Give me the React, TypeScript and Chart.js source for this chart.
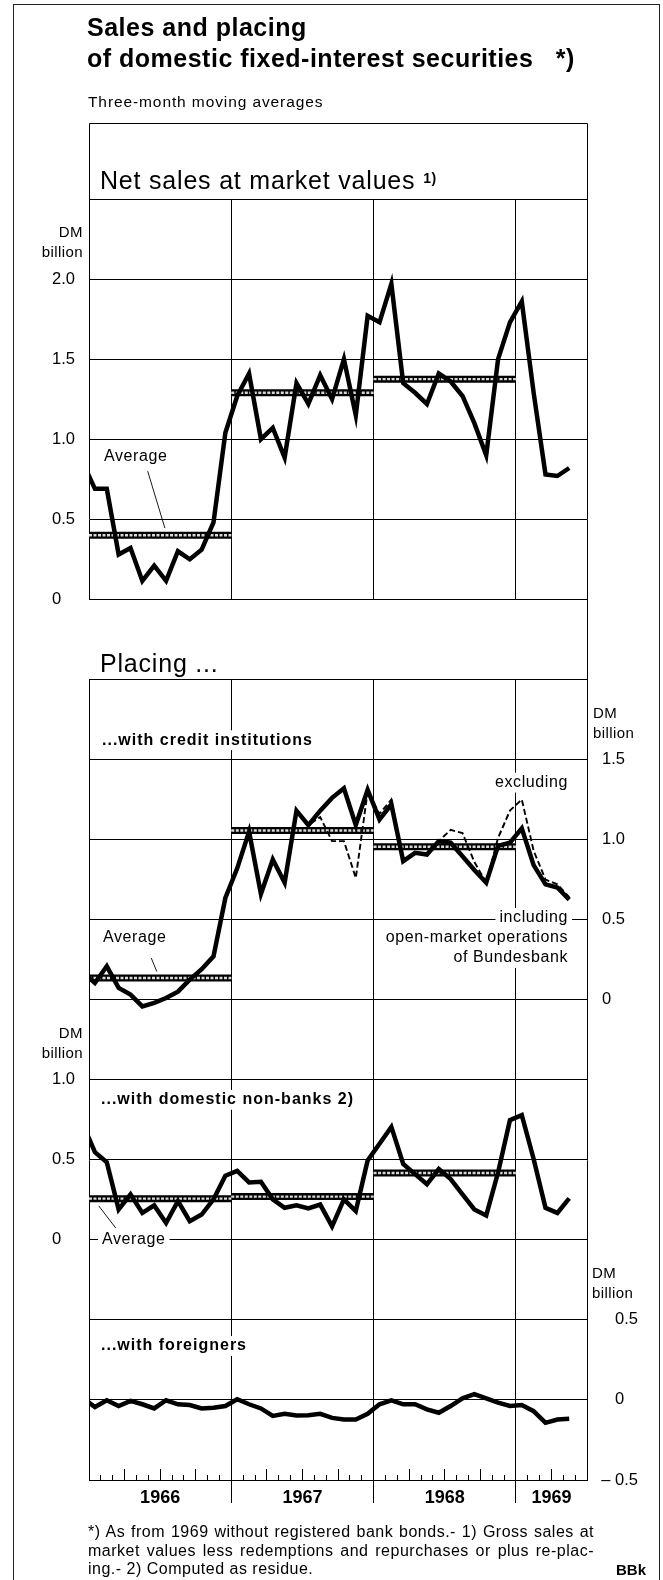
import React, { useEffect, useRef } from "react";
import { Chart, registerables } from "chart.js";

Chart.register(...registerables);

const FONT = '"Liberation Sans", Arial, Helvetica, sans-serif';

// ---------- categories: monthly points, Dec 1965 ... May 1969 ----------
const months: string[] = [];
for (let i = -1; i < 41; i++) {
  const yr = 1966 + Math.floor(i / 12);
  const mo = (((i % 12) + 12) % 12) + 1;
  months.push(`${yr}-${String(mo).padStart(2, "0")}`);
}

const yearLabels = ["1966", "1967", "1968", "1969"];
const yearStarts = [0, 12, 24, 36];
const yearEnds = [12, 24, 36, 42];

// ---------- series (DM billion, three-month moving averages) ----------
const netSales = [0.85, 0.69, 0.69, 0.28, 0.32, 0.115, 0.21, 0.115, 0.3, 0.25, 0.31, 0.48, 1.04, 1.27, 1.41, 1.0, 1.07, 0.885, 1.35, 1.22, 1.4, 1.25, 1.5, 1.15, 1.77, 1.73, 1.97, 1.35, 1.29, 1.22, 1.41, 1.36, 1.27, 1.1, 0.9, 1.5, 1.73, 1.86, 1.29, 0.78, 0.77, 0.82];
const creditIncluding = [0.17, 0.104, 0.208, 0.073, 0.031, -0.042, -0.02, 0.01, 0.05, 0.125, 0.19, 0.27, 0.635, 0.82, 1.05, 0.66, 0.875, 0.73, 1.18, 1.09, 1.18, 1.26, 1.32, 1.09, 1.31, 1.125, 1.22, 0.865, 0.917, 0.906, 0.99, 0.98, 0.896, 0.81, 0.73, 0.96, 0.98, 1.07, 0.84, 0.72, 0.7, 0.625];
const creditExcluding = [0.17, 0.104, 0.208, 0.073, 0.031, -0.042, -0.02, 0.01, 0.05, 0.125, 0.19, 0.27, 0.635, 0.82, 1.05, 0.66, 0.875, 0.73, 1.18, 1.09, 1.14, 0.99, 0.99, 0.76, 1.3, 1.16, 1.25, 0.865, 0.917, 0.906, 0.99, 1.06, 1.04, 0.86, 0.73, 1.01, 1.18, 1.25, 0.93, 0.75, 0.72, 0.64];
const nonBanks = [0.72, 0.547, 0.484, 0.19, 0.284, 0.168, 0.215, 0.105, 0.242, 0.116, 0.158, 0.253, 0.4, 0.43, 0.358, 0.362, 0.253, 0.2, 0.215, 0.196, 0.22, 0.084, 0.253, 0.18, 0.495, 0.6, 0.705, 0.474, 0.41, 0.347, 0.442, 0.379, 0.284, 0.19, 0.152, 0.42, 0.747, 0.779, 0.505, 0.2, 0.168, 0.259];
const foreigners = [0.01, -0.044, -0.002, -0.038, -0.006, -0.027, -0.053, -0.002, -0.027, -0.032, -0.053, -0.049, -0.038, 0.004, -0.027, -0.053, -0.1, -0.087, -0.097, -0.095, -0.087, -0.112, -0.122, -0.122, -0.087, -0.027, -0.002, -0.027, -0.027, -0.059, -0.08, -0.038, 0.01, 0.036, 0.01, -0.017, -0.038, -0.032, -0.07, -0.143, -0.122, -0.118];

// yearly averages 1966, 1967, 1968
const netSalesAvg = [0.4, 1.29, 1.375];
const creditAvg = [0.135, 1.056, 0.955];
const nonBanksAvg = [0.257, 0.27, 0.417];

// tick labels
const topTicks = [0, 0.5, 1, 1.5, 2];
const creditTicks = [0, 0.5, 1, 1.5];
const nonBankTicks = [0, 0.5, 1];
const foreignTicks = [-0.5, 0, 0.5];

// ---------- helpers ----------
const fmt = (v: number) => (v === 0 ? "0" : v < 0 ? "– " + Math.abs(v).toFixed(1) : v.toFixed(1));
const toPoints = (vals: number[]) => vals.map((v, k) => ({ x: k - 0.5, y: v, m: months[k] }));
const bandPoints = (avgs: number[]) => {
  const pts: any[] = [];
  avgs.forEach((a, j) => {
    pts.push({ x: yearStarts[j], y: a }, { x: yearEnds[j], y: a }, { x: yearEnds[j], y: null });
  });
  return pts;
};
const ap = (p: number) => Math.round(p - 0.5) + 0.5;

function lineDs(data: any[], axis: string, width: number, order: number, extra: any = {}) {
  return {
    data,
    yAxisID: axis,
    xAxisID: "x",
    borderColor: "#000",
    borderWidth: width,
    pointRadius: 0,
    tension: 0,
    fill: false,
    borderJoinStyle: "miter",
    borderCapStyle: "butt",
    clip: 0,
    order,
    ...extra,
  };
}

function txt(ctx: any, s: string, x: number, y: number, o: any = {}) {
  const size = o.size ?? 16;
  ctx.font = `${o.weight ?? "normal"} ${size}px ${FONT}`;
  ctx.letterSpacing = `${o.spacing ?? 0.6}px`;
  ctx.textAlign = o.align ?? "left";
  ctx.textBaseline = o.baseline ?? "middle";
  if (o.bg) {
    const w = ctx.measureText(s).width;
    const x0 = ctx.textAlign === "right" ? x - w : x;
    ctx.fillStyle = "#fff";
    ctx.fillRect(x0 - 4, y - size * 0.62, w + 8, size * 1.24);
  }
  ctx.fillStyle = "#000";
  ctx.fillText(s, x, y);
}

const decor = {
  id: "decor",
  beforeDatasetsDraw(chart: any) {
    const { ctx, chartArea: ca, scales } = chart;
    const { x, yTop, yCI, yNB, yFor } = scales;
    ctx.save();
    ctx.lineWidth = 1;

    // outer frame of the figure
    ctx.strokeStyle = "#222";
    ctx.strokeRect(13.5, 4.5, 646, 1590);
    ctx.strokeStyle = "#000";

    // "Placing ..." header strip: blank between the two panels
    const p0 = ap(yTop.getPixelForValue(0)) + 0.5;
    const p1 = ap(yCI.getPixelForValue(2)) - 0.5;
    ctx.fillStyle = "#fff";
    ctx.fillRect(ca.left, p0, ca.right - ca.left - 1, p1 - p0);

    // "Net sales" header box above plot
    const hTop = ap(ca.top - 76);
    ctx.beginPath();
    ctx.moveTo(ap(ca.left), ca.top);
    ctx.lineTo(ap(ca.left), hTop);
    ctx.lineTo(ap(ca.right), hTop);
    ctx.lineTo(ap(ca.right), ca.top);
    ctx.stroke();

    // header titles
    txt(ctx, "Net sales at market values", ca.left + 11, ca.top - 10, { size: 25, spacing: 0.8, baseline: "alphabetic" });
    ctx.font = `normal 25px ${FONT}`;
    ctx.letterSpacing = "0.8px";
    const wNet = ctx.measureText("Net sales at market values").width;
    txt(ctx, "1)", ca.left + 11 + wNet + 8, ca.top - 16, { size: 14, weight: "bold", spacing: 0.3, baseline: "alphabetic" });
    txt(ctx, "Placing ...", ca.left + 11, p0 + 72, { size: 25, spacing: 0.8, baseline: "alphabetic" });

    // month ticks along the time axis
    for (let m = 1; m < 42; m++) {
      if (yearStarts.includes(m)) continue;
      const px = ap(x.getPixelForValue(m));
      const h = m % 3 === 0 ? 11 : 5;
      ctx.beginPath();
      ctx.moveTo(px, ca.bottom);
      ctx.lineTo(px, ca.bottom - h);
      ctx.stroke();
    }
    // year separators extend below axis
    yearStarts.slice(1).forEach((s) => {
      const px = ap(x.getPixelForValue(s));
      ctx.beginPath();
      ctx.moveTo(px, ca.bottom);
      ctx.lineTo(px, ca.bottom + 23);
      ctx.stroke();
    });

    // unit labels
    const unit = (sc: any, v: number, xx: number, align: string) => {
      const py = sc.getPixelForValue(v);
      txt(ctx, "DM", xx, py - 46, { size: 15, align, spacing: 0.4 });
      txt(ctx, "billion", xx, py - 26, { size: 15, align, spacing: 0.4 });
    };
    unit(yTop, 2, ca.left - 6, "right");
    unit(yNB, 1, ca.left - 6, "right");
    unit(yCI, 1.5, ca.right + 6, "left");
    unit(yFor, 0.5, ca.right + 5, "left");

    // leader lines for "Average"
    const lead = (sc: any, m0: number, v0: number, m1: number, v1: number) => {
      ctx.beginPath();
      ctx.lineWidth = 0.9;
      ctx.moveTo(x.getPixelForValue(m0), sc.getPixelForValue(v0));
      ctx.lineTo(x.getPixelForValue(m1), sc.getPixelForValue(v1));
      ctx.stroke();
      ctx.lineWidth = 1;
    };
    lead(yTop, 4.95, 0.8, 6.4, 0.445);
    lead(yCI, 5.25, 0.26, 5.72, 0.175);
    lead(yNB, 0.82, 0.212, 2.25, 0.074);

    // in-plot labels
    const L = ca.left;
    const R = ca.right - 19;
    txt(ctx, "Average", L + 15, yTop.getPixelForValue(0.89), { bg: true });
    txt(ctx, "...with credit institutions", L + 13, yCI.getPixelForValue(1.62), { weight: "bold", spacing: 1, bg: true });
    txt(ctx, "Average", L + 14, yCI.getPixelForValue(0.39), { bg: true });
    txt(ctx, "excluding", R, yCI.getPixelForValue(1.355), { align: "right", bg: true });
    txt(ctx, "including", R, yCI.getPixelForValue(0.51), { align: "right", bg: true });
    txt(ctx, "open-market operations", R, yCI.getPixelForValue(0.385), { align: "right", bg: true });
    txt(ctx, "of Bundesbank", R, yCI.getPixelForValue(0.26), { align: "right", bg: true });
    txt(ctx, "...with domestic non-banks 2)", L + 12, yNB.getPixelForValue(0.874), { weight: "bold", spacing: 1, bg: true });
    txt(ctx, "Average", L + 13, yNB.getPixelForValue(0), { bg: true });
    txt(ctx, "...with foreigners", L + 12, yFor.getPixelForValue(0.337), { weight: "bold", spacing: 1, bg: true });

    ctx.restore();
  },
};

const tickFont = { family: FONT, size: 16.5 };

// tick labels of these narrow axes may reach past their own box, so no label clipping
const noLabelClip = (s: any) => {
  s._computeLabelArea = () => undefined;
};

function yAxis(pos: string, min: number, max: number, list: number[], extra: any) {
  return {
    type: "linear",
    position: pos,
    min,
    max,
    ticks: {
      stepSize: 0.5,
      autoSkip: false,
      color: "#000",
      font: tickFont,
      callback: (v: number) => (list.includes(v) ? fmt(v) : ""),
      ...(extra.ticks || {}),
    },
    grid: { display: false },
    border: { display: false },
    afterUpdate: noLabelClip,
    ...extra.rest,
  };
}

export default function App() {
  const ref = useRef<HTMLCanvasElement>(null);

  useEffect(() => {
    const innerEdges = yearStarts.slice(1);
    const centres = yearStarts.map((s, j) => (s + yearEnds[j]) / 2);
    const xTicks = [0, ...yearStarts.slice(1), 42, ...centres].sort((a, b) => a - b);

    const datasets: any[] = [
      lineDs(toPoints(netSales), "yTop", 4.5, 0),
      lineDs(toPoints(creditIncluding), "yCI", 4.5, 0),
      lineDs(toPoints(creditExcluding), "yCI", 1.9, 1, { borderDash: [6, 3] }),
      lineDs(toPoints(nonBanks), "yNB", 4.5, 0),
      lineDs(toPoints(foreigners), "yFor", 4.5, 0),
    ];
    [
      [netSalesAvg, "yTop"],
      [creditAvg, "yCI"],
      [nonBanksAvg, "yNB"],
    ].forEach(([avg, axis]: any) => {
      datasets.push(lineDs(bandPoints(avg), axis, 7, 3, { spanGaps: false }));
      datasets.push(lineDs(bandPoints(avg), axis, 2.4, 2, { borderColor: "#d8d8d8", borderDash: [3, 1.5], spanGaps: false }));
    });

    const chart = new Chart(ref.current as HTMLCanvasElement, {
      type: "line",
      data: { datasets },
      options: {
        responsive: false,
        animation: false,
        devicePixelRatio: 1,
        events: [],
        layout: { padding: { left: 52, right: 25, top: 199, bottom: 0 } },
        plugins: { legend: { display: false }, tooltip: { enabled: false }, title: { display: false } },
        scales: {
          x: {
            type: "linear",
            position: "bottom",
            min: 0,
            max: 42,
            afterBuildTicks: (s: any) => {
              s.ticks = xTicks.map((v) => ({ value: v }));
            },
            afterFit: (s: any) => {
              s.height = 100;
            },
            grid: {
              color: (c: any) => (innerEdges.includes(c.tick?.value) ? "#000" : "rgba(0,0,0,0)"),
              lineWidth: 1,
              drawTicks: false,
            },
            border: { display: true, color: "#000", width: 1 },
            ticks: {
              autoSkip: false,
              maxRotation: 0,
              minRotation: 0,
              padding: 7,
              color: "#000",
              font: { family: FONT, size: 18, weight: "bold" },
              callback: (v: number) => {
                const j = centres.indexOf(v);
                return j >= 0 ? yearLabels[j] : "";
              },
            },
          },
          yTop: {
            ...yAxis("left", -5.5, 2.5, topTicks, {
              ticks: { crossAlign: "far", padding: 0 },
              rest: {
                weight: 0,
                afterFit: (s: any) => {
                  s.width = 37;
                },
              },
            }),
            grid: { display: true, color: "#000", lineWidth: 1, drawTicks: false },
            border: { display: true, color: "#000", width: 1 },
          },
          yNB: yAxis("left", -1.5, 6.5, nonBankTicks, {
            ticks: { crossAlign: "far", padding: 0 },
            rest: {
              weight: 1,
              afterFit: (s: any) => {
                s.width = 0;
              },
            },
          }),
          yCI: {
            ...yAxis("right", -3, 5, creditTicks, {
              ticks: { crossAlign: "near", padding: 7 },
              rest: {
                weight: 0,
                afterFit: (s: any) => {
                  s.width = 25;
                },
              },
            }),
            border: { display: true, color: "#000", width: 1 },
          },
          yFor: yAxis("right", -0.5, 7.5, foreignTicks, {
            ticks: {
              crossAlign: "far",
              padding: 0,
              callback: (v: number) => (foreignTicks.includes(v) ? (v === 0 ? "0\u2008\u2007" : fmt(v)) : ""),
            },
            rest: {
              weight: 1,
              afterFit: (s: any) => {
                s.width = 26;
              },
            },
          }),
        },
      } as any,
      plugins: [decor],
    });
    return () => chart.destroy();
  }, []);

  const fnStyle: React.CSSProperties = {
    position: "absolute",
    left: 88,
    width: 506,
    fontSize: 16,
    lineHeight: "18.5px",
    letterSpacing: "0.5px",
    whiteSpace: "nowrap",
  };

  return (
    <div style={{ position: "absolute", left: 0, top: 0, width: 663, height: 1580, background: "#fff", color: "#000", fontFamily: FONT, overflow: "hidden" }}>
      <canvas ref={ref} width={663} height={1580} style={{ position: "absolute", left: 0, top: 0, width: 663, height: 1580 }} />
      <div style={{ position: "absolute", left: 87, top: 12, fontSize: 25, fontWeight: "bold", lineHeight: "31px", letterSpacing: "0.5px", whiteSpace: "nowrap" }}>
        Sales and placing
        <br />
        of domestic fixed-interest securities&nbsp;&nbsp; *)
      </div>
      <div style={{ position: "absolute", left: 88, top: 93, fontSize: 15.5, lineHeight: "18px", letterSpacing: "0.9px", whiteSpace: "nowrap" }}>
        Three-month moving averages
      </div>
      <div style={{ ...fnStyle, top: 1523, textAlign: "justify", textAlignLast: "justify" }}>*) As from 1969 without registered bank bonds.- 1) Gross sales at</div>
      <div style={{ ...fnStyle, top: 1541.5, textAlign: "justify", textAlignLast: "justify" }}>market values less redemptions and repurchases or plus re-plac-</div>
      <div style={{ ...fnStyle, top: 1560 }}>ing.- 2) Computed as residue.</div>
      <div style={{ position: "absolute", right: 17, top: 1561, fontSize: 15, fontWeight: "bold", lineHeight: "18px", whiteSpace: "nowrap" }}>BBk</div>
    </div>
  );
}
